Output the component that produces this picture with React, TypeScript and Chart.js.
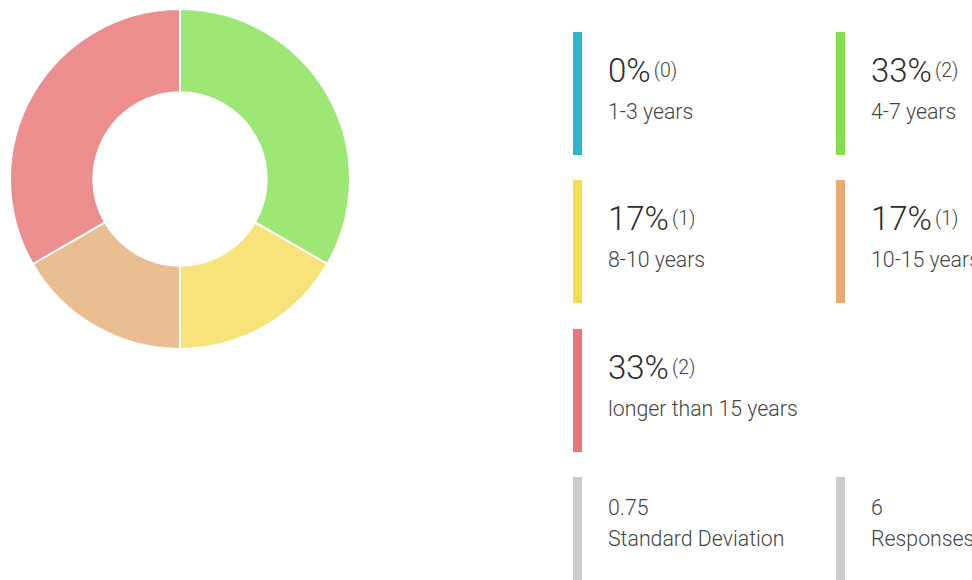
import React, { useEffect, useRef } from "react";
import { Chart, registerables } from "chart.js";

Chart.register(...registerables);

const categories = ["1-3 years", "4-7 years", "8-10 years", "10-15 years", "longer than 15 years"];
const counts = [0, 2, 1, 1, 2];
const percents = ["0%", "33%", "17%", "17%", "33%"];
const sliceColors = ["#30b5cc", "#9de774", "#f6e379", "#ebbe91", "#eb8e8d"];
const barColors = ["#30b5cc", "#84de4f", "#f6dc55", "#e8aa6e", "#eb7474"];
const stdDeviation = "0.75";
const responses = "6";

const FONT = "Roboto, 'Noto Sans', sans-serif";

function Item(props: { x: number; y: number; color: string; big: string; small?: string; label: string; stat?: boolean; height?: number }) {
  const { x, y, color, big, small, label, stat, height } = props;
  const bigSize = stat ? 21.3 : 33;
  const bigBase = stat ? 38 : 50;
  const labBase = stat ? 69 : 87;
  const labSize = 21.3;
  return (
    <>
      <div style={{ position: "absolute", left: x, top: y, width: 9, height: height ?? 123, background: color }} />
      <div
        style={{
          position: "absolute",
          left: x + 35,
          top: y + bigBase - bigSize * 0.8415,
          fontSize: bigSize,
          lineHeight: bigSize + "px",
          fontWeight: 300,
          color: stat ? "#444" : "#2e2e2e",
          whiteSpace: "nowrap",
          fontFamily: FONT,
        }}
      >
        {big}
        {small !== undefined && (
          <span style={{ fontSize: 19.5, color: "#444", fontWeight: 300, marginLeft: 3, verticalAlign: "top", position: "relative", top: 0 }}>{small}</span>
        )}
      </div>
      <div
        style={{
          position: "absolute",
          left: x + 35,
          top: y + labBase - labSize * 0.8415,
          fontSize: labSize,
          lineHeight: labSize + "px",
          fontWeight: 300,
          color: "#444",
          whiteSpace: "nowrap",
          fontFamily: FONT,
        }}
      >
        {label}
      </div>
    </>
  );
}

export default function App() {
  const ref = useRef<HTMLCanvasElement | null>(null);
  useEffect(() => {
    if (!ref.current) return;
    const chart = new Chart(ref.current, {
      type: "doughnut",
      data: {
        labels: categories,
        datasets: [
          {
            data: counts,
            backgroundColor: sliceColors,
            borderColor: "#ffffff",
            borderWidth: 2,
          },
        ],
      },
      options: {
        responsive: false,
        animation: false,
        cutout: "51%",
        layout: { padding: 0 },
        plugins: { legend: { display: false }, tooltip: { enabled: false } },
      },
    });
    return () => chart.destroy();
  }, []);

  const colX = [573, 836];
  const rowY = [32, 180, 329];
  const items = categories.map((c, i) => ({
    x: colX[i % 2],
    y: rowY[Math.floor(i / 2)],
    color: barColors[i],
    big: percents[i],
    small: "(" + counts[i] + ")",
    label: c,
  }));

  return (
    <div style={{ position: "fixed", left: 0, top: 0, width: 972, height: 580, overflow: "hidden", background: "#fff" }}>
      <canvas ref={ref} width={342} height={342} style={{ position: "absolute", left: 9, top: 8, width: 342, height: 342 }} />
      {items.map((it, i) => (
        <Item key={i} {...it} />
      ))}
      <Item x={573} y={477} color="#cccccc" big={stdDeviation} label="Standard Deviation" stat height={120} />
      <Item x={836} y={477} color="#cccccc" big={responses} label="Responses" stat height={120} />
    </div>
  );
}
